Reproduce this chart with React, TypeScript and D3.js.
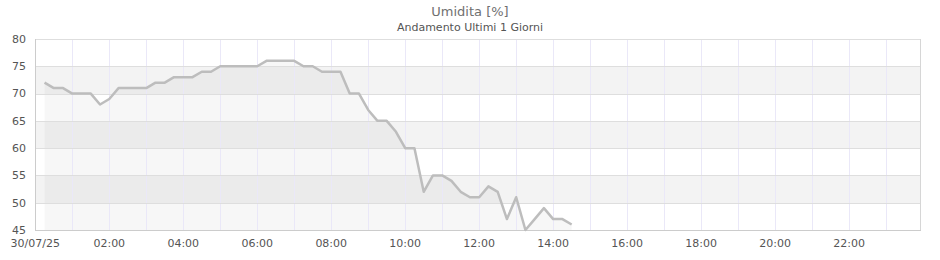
import React from "react";
import * as d3 from "d3";

const title = "Umidita [%]";
const subtitle = "Andamento Ultimi 1 Giorni";

// sample times (hh:mm) every 15 min from 00:15 to 14:30
const times: string[] = [
  "00:15","00:30","00:45","01:00","01:15","01:30","01:45","02:00","02:15","02:30","02:45","03:00",
  "03:15","03:30","03:45","04:00","04:15","04:30","04:45","05:00","05:15","05:30","05:45","06:00",
  "06:15","06:30","06:45","07:00","07:15","07:30","07:45","08:00","08:15","08:30","08:45","09:00",
  "09:15","09:30","09:45","10:00","10:15","10:30","10:45","11:00","11:15","11:30","11:45","12:00",
  "12:15","12:30","12:45","13:00","13:15","13:30","13:45","14:00","14:15","14:30",
];
const humidity: number[] = [
  72, 71, 71, 70, 70, 70, 68, 69, 71, 71, 71, 71,
  72, 72, 73, 73, 73, 74, 74, 75, 75, 75, 75, 75,
  76, 76, 76, 76, 75, 75, 74, 74, 74, 70, 70, 67,
  65, 65, 63, 60, 60, 52, 55, 55, 54, 52, 51, 51,
  53, 52, 47, 51, 45, 47, 49, 47, 47, 46,
];
const yTicks: number[] = [45, 50, 55, 60, 65, 70, 75, 80];
const xLabelHours: number[] = [0, 2, 4, 6, 8, 10, 12, 14, 16, 18, 20, 22];
const firstLabel = "30/07/25";

const W = 940;
const H = 260;
const L = 35.3;
const R = 920;
const T = 39;
const B = 230;

const day = new Date(2025, 6, 30, 0, 0);
const toDate = (hm: string) => {
  const [h, m] = hm.split(":").map(Number);
  return new Date(2025, 6, 30, h, m);
};

export default function App() {
  const x = d3
    .scaleTime()
    .domain([day, new Date(2025, 6, 30, 23, 55)])
    .range([L, R]);
  const y = d3.scaleLinear().domain([45, 80]).range([B, T]);

  const data = times.map((t, i) => ({ d: toDate(t), v: humidity[i] }));

  const line = d3
    .line<{ d: Date; v: number }>()
    .x((p) => x(p.d))
    .y((p) => y(p.v));
  const area = d3
    .area<{ d: Date; v: number }>()
    .x((p) => x(p.d))
    .y0(y(45))
    .y1((p) => y(p.v));

  const hours = d3.range(1, 24);
  const bands = yTicks.slice(0, -1).map((v, i) => ({ lo: v, hi: yTicks[i + 1], i }));
  const font = "DejaVu Sans, sans-serif";

  return (
    <svg
      width={W}
      height={H}
      style={{ position: "absolute", left: 0, top: 0, background: "#fff" }}
    >
      {/* bands */}
      {bands.map((b) => (
        <rect
          key={b.lo}
          x={35}
          y={Math.round(y(b.hi))}
          width={R - 35}
          height={Math.round(y(b.lo)) - Math.round(y(b.hi))}
          fill={(80 - b.hi) / 5 % 2 === 1 ? "#f3f3f3" : "#ffffff"}
        />
      ))}
      {/* area */}
      <path d={area(data) || ""} fill="rgba(0,0,0,0.03)" />
      {/* vertical grid */}
      {hours.map((h) => {
        const xx = Math.floor(x(new Date(2025, 6, 30, h, 0))) + 0.5;
        return (
          <line key={h} x1={xx} x2={xx} y1={T} y2={B} stroke="#eae8f8" strokeWidth={1} />
        );
      })}
      {/* horizontal grid */}
      {yTicks.map((v) => {
        const yy = Math.round(y(v)) + 0.5;
        return (
          <line key={v} x1={35} x2={R} y1={yy} y2={yy} stroke="#dedede" strokeWidth={1} />
        );
      })}
      {/* border */}
      <line x1={R + 0.5} x2={R + 0.5} y1={T} y2={B + 1} stroke="#d6d6d6" />
      <line x1={35.5} x2={35.5} y1={T} y2={B + 1} stroke="#cccccc" />
      <line x1={35} x2={R + 1} y1={B + 0.5} y2={B + 0.5} stroke="#cccccc" />
      {/* line */}
      <path
        d={line(data) || ""}
        fill="none"
        stroke="#bdbdbd"
        strokeWidth={2.5}
        strokeLinejoin="round"
      />
      {/* y labels */}
      {yTicks.map((v) => (
        <text
          key={v}
          x={26}
          y={y(v)}
          dy="0.35em"
          textAnchor="end"
          fontFamily={font}
          fontSize={11}
          fill="#555"
        >
          {v}
        </text>
      ))}
      {/* x labels */}
      {xLabelHours.map((h) => (
        <text
          key={h}
          x={x(new Date(2025, 6, 30, h, 0))}
          y={247}
          textAnchor="middle"
          fontFamily={font}
          fontSize={11}
          fill="#555"
        >
          {h === 0 ? firstLabel : d3.timeFormat("%H:%M")(new Date(2025, 6, 30, h, 0))}
        </text>
      ))}
      {/* titles */}
      <text x={470} y={16} textAnchor="middle" fontFamily={font} fontSize={13} fill="#707070">
        {title}
      </text>
      <text x={470} y={31} textAnchor="middle" fontFamily={font} fontSize={11} fill="#555">
        {subtitle}
      </text>
    </svg>
  );
}
